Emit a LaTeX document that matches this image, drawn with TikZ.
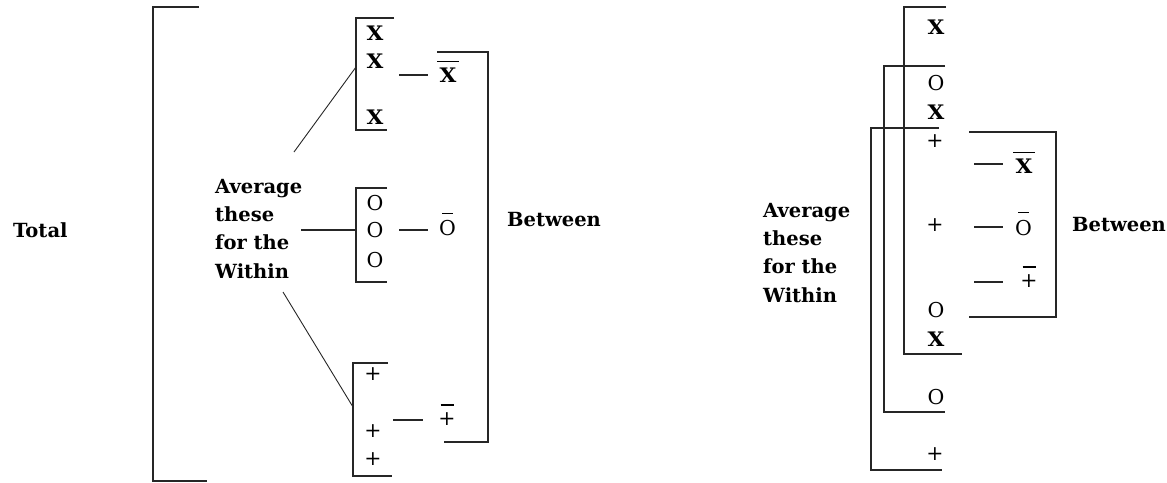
\documentclass[tikz,border=0pt]{standalone}
\usepackage{fontspec}
\setmainfont{DejaVu Serif}
\newcommand\ovbar[3]{\leavevmode\setbox0=\hbox{#3}\rlap{\hbox to\wd0{\hss\smash{\raisebox{\dimexpr\ht0+#2\relax}{\rule{#1}{1.2pt}}}\hss}}\box0}
\tikzset{
  ln/.style={line width=1.1pt, draw=black!85},
  lbl/.style={font=\fontsize{19.5}{28.3}\selectfont\bfseries, inner sep=0pt, align=left},
  xs/.style={font=\fontsize{20}{21}\selectfont\bfseries, inner sep=0pt, xscale=1.08},
  os/.style={font=\fontsize{20.5}{21}\selectfont, inner sep=0pt},
}
\begin{document}
\begin{tikzpicture}[x=1pt,y=-1pt]
\useasboundingbox (0,0) rectangle (1167,482);
% ---------------- left diagram ----------------
\node[lbl, anchor=base west] (total) at (13,237) {Total};
\node[lbl, anchor=base west] (betweenL) at (507,226) {Between};
\node[lbl, anchor=north west] (avgL) at (215,178.8) {Average\\these\\for the\\Within};
% brackets
\draw[ln] (199,7) -- (153,7) -- (153,481) -- (207,481);
\draw[ln] (394,18) -- (356,18) -- (356,130) -- (387,130);
\draw[ln] (387,188) -- (356,188) -- (356,282) -- (387,282);
\draw[ln] (388,363) -- (353,363) -- (353,476) -- (392,476);
\draw[ln] (437,52) -- (488,52) -- (488,442) -- (444,442);
% symbols
\node[xs] (x1) at (375,33) {X};
\node[xs] (x2) at (375,61) {X};
\node[xs] (x3) at (375,117) {X};
\node[os] (o1) at (375,203) {O};
\node[os] (o2) at (375,230.5) {O};
\node[os] (o3) at (375,260) {O};
\node[os] (p1) at (373,374) {+};
\node[os] (p2) at (373,431) {+};
\node[os] (p3) at (373,459) {+};
\node[xs] (xbarL) at (448,75.5) {\ovbar{20pt}{6pt}{X}};
\node[os] (obarL) at (447.5,228.5) {\ovbar{11pt}{7pt}{O}};
\node[os] (pbarL) at (447,419) {\ovbar{13pt}{7pt}{+}};
% connectors
\coordinate (c1) at (294,152);
\coordinate (c1e) at (356,67);
\coordinate (c2) at (301,230);
\coordinate (c2e) at (356,230);
\coordinate (c3) at (283,292);
\coordinate (c3e) at (353,407);
\draw[ln, line width=0.9pt] (c1) -- (c1e);
\draw[ln] (c2) -- (c2e);
\draw[ln, line width=0.9pt] (c3) -- (c3e);
\coordinate (d1a) at (399,75); \coordinate (d1b) at (428,75);
\coordinate (d2a) at (399,230); \coordinate (d2b) at (428,230);
\coordinate (d3a) at (393,420); \coordinate (d3b) at (423,420);
\draw[ln] (d1a) -- (d1b);
\draw[ln] (d2a) -- (d2b);
\draw[ln] (d3a) -- (d3b);
% ---------------- right diagram ----------------
\node[lbl, anchor=north west] (avgR) at (763,202.8) {Average\\these\\for the\\Within};
\node[lbl, anchor=base west] (betweenR) at (1072,231) {Between};
\draw[ln] (946,7) -- (904,7) -- (904,354) -- (962,354);
\draw[ln] (945,66) -- (884,66) -- (884,412) -- (945,412);
\draw[ln] (939,128) -- (871,128) -- (871,470) -- (942,470);
\draw[ln] (969,132) -- (1056,132) -- (1056,317) -- (969,317);
\node[xs] (rx1) at (936,27) {X};
\node[os] (ro1) at (936,83) {O};
\node[xs] (rx2) at (936,112) {X};
\node[os] (rp1) at (935,141) {+};
\node[os] (rp2) at (935,225) {+};
\node[os] (ro2) at (936,310) {O};
\node[xs] (rx3) at (936,339) {X};
\node[os] (ro3) at (936,397) {O};
\node[os] (rp3) at (935,454) {+};
\node[xs] (xbarR) at (1024,166) {\ovbar{20pt}{6pt}{X}};
\node[os] (obarR) at (1023.5,228) {\ovbar{11pt}{7pt}{O}};
\node[os] (pbarR) at (1029,281) {\ovbar{13pt}{7pt}{+}};
\coordinate (e1a) at (974,164); \coordinate (e1b) at (1003,164);
\coordinate (e2a) at (974,227); \coordinate (e2b) at (1003,227);
\coordinate (e3a) at (974,282); \coordinate (e3b) at (1003,282);
\draw[ln] (e1a) -- (e1b);
\draw[ln] (e2a) -- (e2b);
\draw[ln] (e3a) -- (e3b);
\end{tikzpicture}
\end{document}
